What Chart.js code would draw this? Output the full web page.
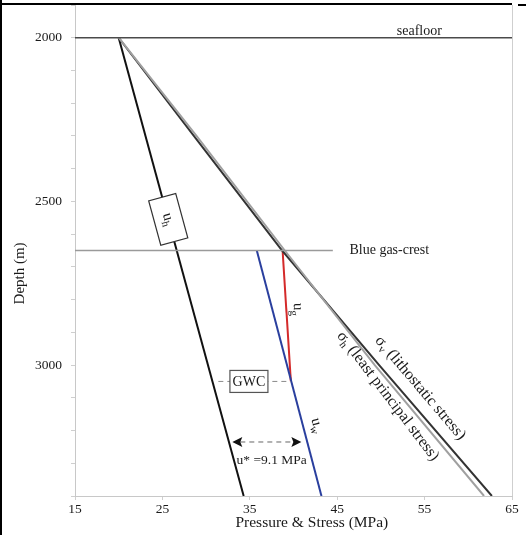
<!DOCTYPE html>
<html><head><meta charset="utf-8">
<script src="https://cdn.jsdelivr.net/npm/chart.js@4/dist/chart.umd.min.js"></script>
<style>html,body{margin:0;padding:0;background:#fff}#wrap{width:526px;height:535px;position:relative}</style>
</head><body><div id="wrap"><canvas id="c" width="526" height="535"></canvas></div>
<script>
// ---- data ----
const depthMin = 1900, depthMax = 3400;
const pressureMin = 15, pressureMax = 65;
const pressureTicks = [15, 25, 35, 45, 55, 65];
const depthLabelTicks = [2000, 2500, 3000];
const xTitle = 'Pressure & Stress (MPa)';
const yTitle = 'Depth (m)';
// hydrostatic pore pressure u_h
const uhDepth = [2000, 3400];
const uhP = [20, 34.3];
// lithostatic stress sigma_v
const svDepth = [2000, 2300, 2650, 3000, 3400];
const svP = [20, 28.6, 38.7, 49.8, 62.7];
// least principal stress sigma_h
const shDepth = [2000, 2300, 2650, 3000, 3400];
const shP = [20, 28.9, 39.0, 49.3, 61.8];
// water pressure u_w (blue)
const uwDepth = [2650, 3400];
const uwP = [35.8, 43.2];
// gas pressure u_g (red)
const ugDepth = [2650, 3050];
const ugP = [38.75, 39.7];
// reference levels
const seafloorDepth = 2000;
const gasCrestDepth = 2650;
const gwcDepth = 3050;
const seafloorP = [15, 65];
const gasCrestP = [15, 44.5];
const gwcP = [31.4, 39.7];
const uStarDepth = 3235;
const uStarP = [33.0, 40.9];
const uStarLabel = 'u* =9.1 MPa';

const pts = (ps, ds) => ps.map((p, i) => ({x: p, y: ds[i]}));
const SERIF = '"Liberation Serif", "Times New Roman", serif';

function subText(ctx, x, y, ang, main, sub, rest, size) {
  ctx.save();
  ctx.translate(x, y);
  ctx.rotate(ang);
  ctx.fillStyle = '#1a1a1a';
  ctx.textBaseline = 'middle';
  ctx.textAlign = 'left';
  const f1 = size + 'px ' + SERIF, f2 = Math.round(size * 0.7) + 'px ' + SERIF;
  ctx.font = f1; const w1 = ctx.measureText(main).width; const w3 = rest ? ctx.measureText(rest).width : 0;
  ctx.font = f2; const w2 = sub ? ctx.measureText(sub).width : 0;
  let cx = -(w1 + w2 + w3) / 2;
  ctx.font = f1; ctx.fillText(main, cx, 0); cx += w1;
  if (sub) { ctx.font = f2; ctx.fillText(sub, cx, size * 0.3); cx += w2; }
  if (rest) { ctx.font = f1; ctx.fillText(rest, cx, 0); }
  ctx.restore();
}

const annot = {
  id: 'annot',
  beforeDraw(chart) {
    const ctx = chart.ctx;
    ctx.save(); ctx.fillStyle = '#fff'; ctx.fillRect(0, 0, chart.width, chart.height); ctx.restore();
  },
  afterDatasetsDraw(chart) {
    const ctx = chart.ctx, X = chart.scales.x, Y = chart.scales.y;
    const px = v => X.getPixelForValue(v), py = v => Y.getPixelForValue(v);
    const a = chart.chartArea;
    // right border
    ctx.save();
    ctx.strokeStyle = '#cfcfcf'; ctx.lineWidth = 1;
    ctx.beginPath(); ctx.moveTo(a.right + 0.5, a.top); ctx.lineTo(a.right + 0.5, a.bottom); ctx.stroke();
    ctx.restore();

    // axis titles
    ctx.save();
    ctx.fillStyle = '#1a1a1a'; ctx.textAlign = 'center'; ctx.textBaseline = 'middle';
    ctx.font = '15.5px ' + SERIF;
    ctx.fillText(xTitle, px(42.1), 523);
    ctx.translate(20, py(2720)); ctx.rotate(-Math.PI / 2);
    ctx.font = '15px ' + SERIF;
    ctx.fillText(yTitle, 0, 0);
    ctx.restore();

    // seafloor label
    ctx.save();
    ctx.fillStyle = '#1a1a1a'; ctx.font = '14px ' + SERIF; ctx.textAlign = 'center'; ctx.textBaseline = 'alphabetic';
    ctx.fillText('seafloor', px(54.4), py(seafloorDepth) - 3);
    ctx.textAlign = 'left'; ctx.textBaseline = 'middle'; ctx.font = '14px ' + SERIF;
    ctx.fillText('Blue gas-crest', px(46.4), py(gasCrestDepth));
    ctx.restore();

    // u_h box on line
    const bd = 2555;
    const bp = uhP[0] + (uhP[1] - uhP[0]) * (bd - uhDepth[0]) / (uhDepth[1] - uhDepth[0]);
    const ang = Math.atan2(py(uhDepth[1]) - py(uhDepth[0]), px(uhP[1]) - px(uhP[0]));
    ctx.save();
    ctx.translate(px(bp), py(bd));
    ctx.rotate(ang);
    ctx.fillStyle = '#fff'; ctx.strokeStyle = '#333'; ctx.lineWidth = 1.2;
    ctx.fillRect(-23, -14, 46, 28); ctx.strokeRect(-23, -14, 46, 28);
    ctx.restore();
    subText(ctx, px(bp), py(bd), ang, 'u', 'h', '', 15);

    // u_g and u_w labels
    subText(ctx, px(40.5), py(2830), Math.PI / 2 - 0.02, 'u', 'g', '', 15);
    const angW = Math.atan2(py(uwDepth[1]) - py(uwDepth[0]), px(uwP[1]) - px(uwP[0]));
    subText(ctx, px(42.7), py(3185), angW, 'u', 'w', '', 15);

    // GWC
    const gx = px(34.9), gy = py(gwcDepth);
    ctx.save();
    ctx.fillStyle = '#fff'; ctx.strokeStyle = '#555'; ctx.lineWidth = 1.2;
    ctx.fillRect(gx - 19, gy - 11, 38, 22); ctx.strokeRect(gx - 19, gy - 11, 38, 22);
    ctx.fillStyle = '#1a1a1a'; ctx.font = '14px ' + SERIF; ctx.textAlign = 'center'; ctx.textBaseline = 'middle';
    ctx.fillText('GWC', gx, gy + 1);
    ctx.restore();

    // u* arrow
    const ax1 = px(uStarP[0]), ax2 = px(uStarP[1]), ay = py(uStarDepth);
    ctx.save();
    ctx.strokeStyle = '#666'; ctx.lineWidth = 1; ctx.setLineDash([5, 4]);
    ctx.beginPath(); ctx.moveTo(ax1 + 8, ay); ctx.lineTo(ax2 - 8, ay); ctx.stroke();
    ctx.setLineDash([]);
    ctx.fillStyle = '#111';
    ctx.beginPath(); ctx.moveTo(ax1, ay); ctx.lineTo(ax1 + 10, ay - 5); ctx.lineTo(ax1 + 8, ay); ctx.lineTo(ax1 + 10, ay + 5); ctx.closePath(); ctx.fill();
    ctx.beginPath(); ctx.moveTo(ax2, ay); ctx.lineTo(ax2 - 10, ay - 5); ctx.lineTo(ax2 - 8, ay); ctx.lineTo(ax2 - 10, ay + 5); ctx.closePath(); ctx.fill();
    ctx.fillStyle = '#1a1a1a'; ctx.font = '13.5px ' + SERIF; ctx.textAlign = 'center'; ctx.textBaseline = 'middle';
    ctx.fillText(uStarLabel, px(37.5), py(3290));
    ctx.restore();

    // stress labels
    subText(ctx, px(54.5), py(3070), 0.866, 'σ', 'v', ' (lithostatic stress)', 16);
    subText(ctx, px(50.8), py(3095), 0.92, 'σ', 'h', ' (least principal stress)', 16);
  },
  afterDraw(chart) {
    const ctx = chart.ctx;
    ctx.save();
    ctx.strokeStyle = '#000'; ctx.lineWidth = 2;
    ctx.beginPath(); ctx.moveTo(1, 0); ctx.lineTo(1, chart.height); ctx.stroke();
    ctx.beginPath(); ctx.moveTo(0, 4); ctx.lineTo(512, 4); ctx.stroke();
    ctx.beginPath(); ctx.moveTo(518, 5); ctx.lineTo(526, 5); ctx.stroke();
    ctx.restore();
  }
};

new Chart(document.getElementById('c'), {
  type: 'scatter',
  data: {
    datasets: [
      {data: pts(seafloorP, [seafloorDepth, seafloorDepth]), borderColor: '#4a4a4a', borderWidth: 1.5},
      {data: pts(gasCrestP, [gasCrestDepth, gasCrestDepth]), borderColor: '#9a9a9a', borderWidth: 1.5},
      {data: pts(gwcP, [gwcDepth, gwcDepth]), borderColor: '#8a8a8a', borderWidth: 1, borderDash: [5, 4]},
      {data: pts(shP, shDepth), borderColor: '#a0a0a0', borderWidth: 2},
      {data: pts(svP, svDepth), borderColor: '#333333', borderWidth: 2},
      {data: pts(uhP, uhDepth), borderColor: '#111111', borderWidth: 2},
      {data: pts(uwP, uwDepth), borderColor: '#2a3f9e', borderWidth: 2},
      {data: pts(ugP, ugDepth), borderColor: '#d42a2a', borderWidth: 2}
    ].map(d => Object.assign({showLine: true, pointRadius: 0, tension: 0, fill: false}, d))
  },
  options: {
    responsive: false, animation: false, devicePixelRatio: 1,
    layout: {padding: {top: 5, right: 14, left: 0, bottom: 0}},
    plugins: {legend: {display: false}, tooltip: {enabled: false}},
    scales: {
      x: {
        type: 'linear', position: 'bottom', min: pressureMin, max: pressureMax,
        afterBuildTicks: s => { s.ticks = pressureTicks.map(v => ({value: v})); },
        afterFit: s => { s.height = 39; s.paddingLeft = 0; s.paddingRight = 0; },
        grid: {drawOnChartArea: false, drawTicks: true, tickLength: 4, color: '#cfcfcf'},
        border: {color: '#c8c8c8', width: 1},
        ticks: {padding: 1, color: '#1a1a1a', font: {family: SERIF, size: 13.5}, maxRotation: 0},
        title: {display: false}
      },
      y: {
        type: 'linear', reverse: true, min: depthMin, max: depthMax,
        afterBuildTicks: s => { const t = []; for (let v = depthMin; v <= depthMax; v += 100) t.push({value: v}); s.ticks = t; },
        afterFit: s => { s.width = 75; s.paddingTop = 0; s.paddingBottom = 0; },
        grid: {drawOnChartArea: false, drawTicks: true, tickLength: 4, color: '#cfcfcf'},
        border: {color: '#c8c8c8', width: 1},
        ticks: {padding: 9, autoSkip: false, color: '#1a1a1a', font: {family: SERIF, size: 13.5},
          callback: v => depthLabelTicks.includes(v) ? String(v) : ''},
        title: {display: false}
      }
    }
  },
  plugins: [annot]
});
</script></body></html>
